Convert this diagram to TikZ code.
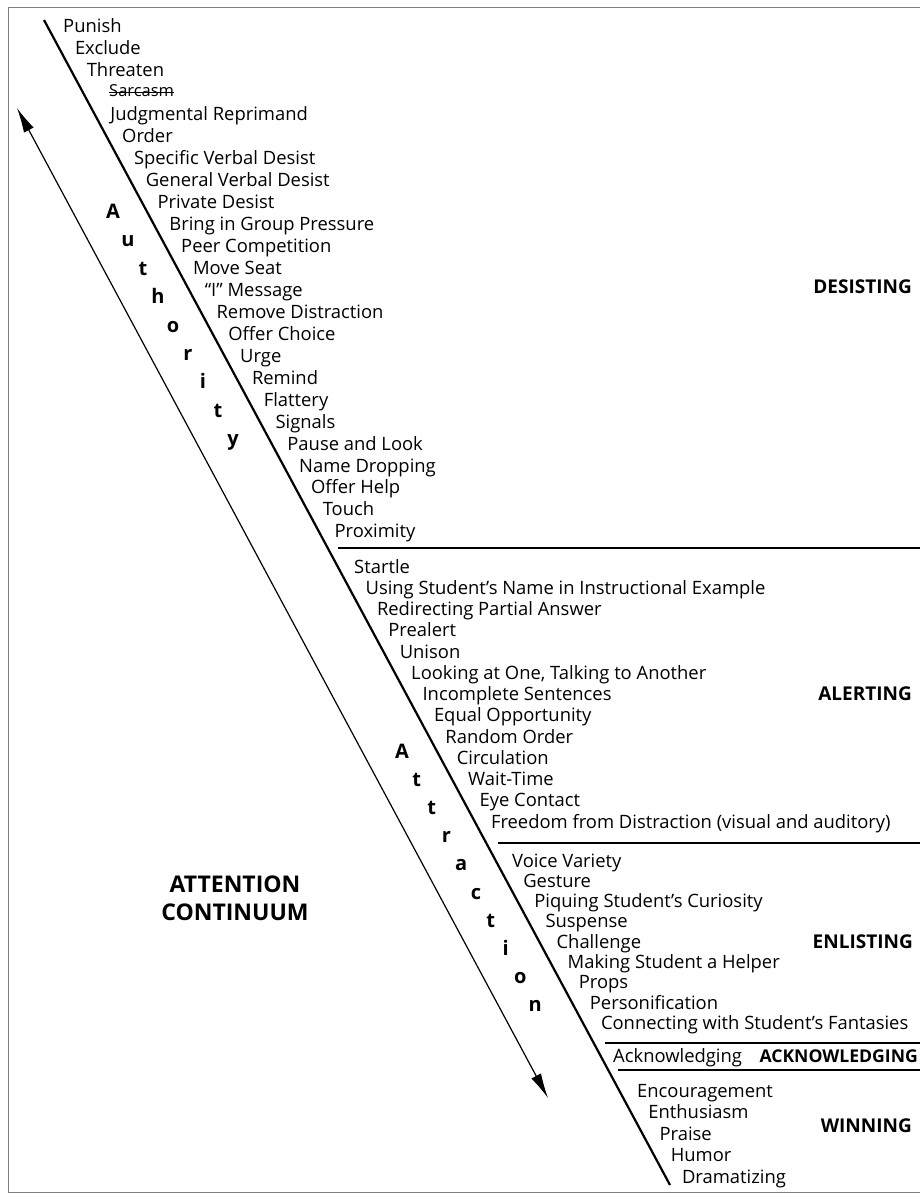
\documentclass[tikz,border=0pt]{standalone}
\usepackage{fontspec}
\setmainfont{Open Sans}
\usetikzlibrary{arrows.meta}
\newcommand\lookingtext{Looking at One, Talking to Another}
\begin{document}
\begin{tikzpicture}[x=1pt,y=1pt,
  item/.style={anchor=base west, inner sep=0pt, font=\fontsize{18.4}{21}\selectfont},
  sect/.style={anchor=base east, inner sep=0pt, font=\fontsize{19}{22}\selectfont\bfseries},
  vlet/.style={anchor=base, inner sep=0pt, font=\fontsize{20}{22}\selectfont\bfseries},
  mainline/.style={line width=2.2pt},
  sepline/.style={line width=1.4pt},
  frameline/.style={line width=1pt, black!50},
  dbl/.style={line width=1.2pt, {Latex[length=25pt,width=11pt]}-{Latex[length=25pt,width=11pt]}}
]
\useasboundingbox (0,0) rectangle (920,-1196);
% frame
\coordinate (fTR) at (920,-8);
\coordinate (fTL) at (8,-8);
\coordinate (fBL) at (8,-1192);
\coordinate (fBR) at (920,-1192);
\draw[frameline] (fTR) -- (fTL) -- (fBL) -- (fBR);

% main diagonal
\coordinate (mTop) at (44,-20);
\coordinate (mBot) at (670,-1185);
\draw[mainline] (mTop) -- (mBot);

% double arrow
\coordinate (aTop) at (17,-108);
\coordinate (aBot) at (548,-1098);
\draw[dbl] (aTop) -- (aBot);

% DESISTING items
\foreach \i/\t in {0/Punish,1/Exclude,2/Threaten,4/Judgmental Reprimand,5/Order,
  6/Specific Verbal Desist,7/General Verbal Desist,8/Private Desist,
  9/Bring in Group Pressure,10/Peer Competition,11/Move Seat,12/“I” Message,
  13/Remove Distraction,14/Offer Choice,15/Urge,16/Remind,17/Flattery,
  18/Signals,19/Pause and Look,20/Name Dropping,21/Offer Help,22/Touch,23/Proximity}
  \node[item] (d\i) at ({63+11.8*\i},{-33-21.95*\i}) {\t};
\node[item, font=\fontsize{16.5}{19}\selectfont] (d3) at (109,-97) {Sarcasm};
\draw[line width=0.9pt] ([yshift=4.3pt]d3.base west) -- ([yshift=4.3pt]d3.base east);

% ALERTING items
\foreach \i/\t in {0/Startle,1/Using Student’s Name in Instructional Example,
  2/Redirecting Partial Answer,3/Prealert,4/Unison,5/\lookingtext,
  6/Incomplete Sentences,7/Equal Opportunity,8/Random Order,9/Circulation,
  10/Wait-Time,11/Eye Contact,12/Freedom from Distraction (visual and auditory)}
  \node[item] (al\i) at ({354+11.4*\i},{-573-21.25*\i}) {\t};

% ENLISTING items
\foreach \i/\t in {0/Voice Variety,1/Gesture,2/Piquing Student’s Curiosity,
  3/Suspense,4/Challenge,5/Making Student a Helper,6/Props,7/Personification,
  8/Connecting with Student’s Fantasies}
  \node[item] (en\i) at ({512+11.1*\i},{-867-20.3*\i}) {\t};

% ACKNOWLEDGING
\node[item] (ack) at (613,-1062) {Acknowledging};

% WINNING items
\foreach \i/\t in {0/Encouragement,1/Enthusiasm,2/Praise,3/Humor,4/Dramatizing}
  \node[item] (w\i) at ({637+11.2*\i},{-1097-21.5*\i}) {\t};

% separators
\coordinate (s1a) at (338,-548);  \coordinate (s1b) at (920,-548);
\coordinate (s2a) at (498,-843);  \coordinate (s2b) at (920,-843);
\coordinate (s3a) at (605,-1043); \coordinate (s3b) at (920,-1043);
\coordinate (s4a) at (618,-1070); \coordinate (s4b) at (920,-1070);
\draw[sepline] (s1a) -- (s1b);
\draw[sepline] (s2a) -- (s2b);
\draw[sepline] (s3a) -- (s3b);
\draw[sepline] (s4a) -- (s4b);

% section labels
\node[sect] (lDes) at (912,-293) {DESISTING};
\node[sect] (lAle) at (912,-700) {ALERTING};
\node[sect] (lEnl) at (913,-948) {ENLISTING};
\node[sect, font=\fontsize{17.6}{21}\selectfont\bfseries] (lAck) at (918,-1062) {ACKNOWLEDGING};
\node[sect] (lWin) at (912,-1132) {WINNING};

% Authority
\foreach \i/\c in {0/A,1/u,2/t,3/h,4/o,5/r,6/i,7/t,8/y}
  \node[vlet] (au\i) at ({113+15*\i},{-218.4-28.4*\i}) {\c};
% Attraction
\foreach \i/\c in {0/A,1/t,2/t,3/r,4/a,5/c,6/t,7/i,8/o,9/n}
  \node[vlet] (at\i) at ({402+14.8*\i},{-758.5-28.1*\i}) {\c};

% title
\node[align=center, inner sep=0pt, font=\fontsize{23}{27.5}\selectfont\bfseries] (title) at (235,-898.5) {ATTENTION\\CONTINUUM};
\end{tikzpicture}
\end{document}
